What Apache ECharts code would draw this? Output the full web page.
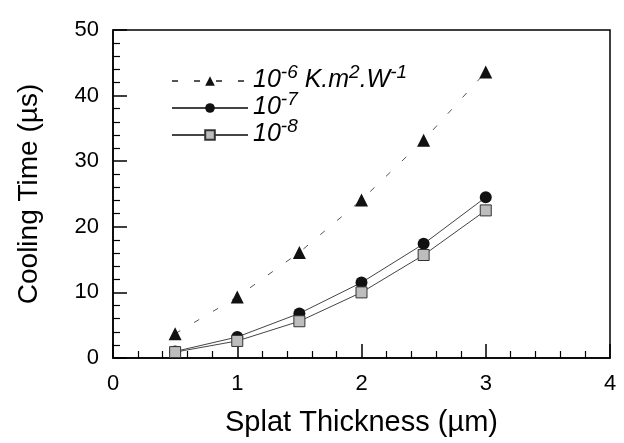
<!DOCTYPE html>
<html>
<head>
<meta charset="utf-8">
<script src="https://cdn.jsdelivr.net/npm/echarts@6/dist/echarts.min.js"></script>
<style>html,body{margin:0;padding:0;background:#fff}#c{width:624px;height:443px}</style>
</head>
<body>
<div id="c"></div>
<script>
var thickness = [0.5, 1, 1.5, 2, 2.5, 3];
var res1e6 = [3.7, 9.3, 16.1, 24.1, 33.2, 43.6];
var res1e7 = [1.0, 3.2, 6.8, 11.5, 17.4, 24.5];
var res1e8 = [0.9, 2.6, 5.6, 10.0, 15.7, 22.5];
var seriesNames = ['1e-6', '1e-7', '1e-8'];
var xTicks = [0, 1, 2, 3, 4];
var yTicks = [0, 10, 20, 30, 40, 50];

function pairs(vals) { return thickness.map(function (x, i) { return [x, vals[i]]; }); }

var legendText = {
  '1e-6': '{b|10}{s|-6}{b| K.m}{s|2}{b|.W}{s|-1}',
  '1e-7': '{b|10}{s|-7}',
  '1e-8': '{b|10}{s|-8}'
};

var chart = echarts.init(document.getElementById('c'), null, { renderer: 'canvas' });
var font = 'Liberation Sans, Arial, sans-serif';
chart.setOption({
  animation: false,
  backgroundColor: '#fff',
  grid: { left: 113, right: 14, top: 30, bottom: 85, show: true, borderColor: '#000', borderWidth: 1.5 },
  legend: {
    orient: 'vertical', left: 166, top: 58, itemWidth: 76, itemHeight: 12, itemGap: -3,
    data: seriesNames,
    formatter: function (n) { return legendText[n]; },
    textStyle: {
      rich: {
        b: { fontSize: 25, fontStyle: 'italic', fontFamily: font, color: '#000', lineHeight: 24, verticalAlign: 'bottom' },
        s: { fontSize: 19, fontStyle: 'italic', fontFamily: font, color: '#000', lineHeight: 16, padding: [0, 0, 11, 0], verticalAlign: 'bottom' }
      }
    }
  },
  xAxis: {
    type: 'value', min: xTicks[0], max: xTicks[xTicks.length - 1], interval: 1,
    name: 'Splat Thickness (µm)', nameLocation: 'middle', nameGap: 50,
    nameTextStyle: { fontSize: 29, fontFamily: font, color: '#000' },
    axisLine: { lineStyle: { color: '#000', width: 1.5 } },
    axisTick: { inside: true, length: 14, lineStyle: { color: '#000', width: 1.5 } },
    minorTick: { show: true, splitNumber: 5, length: 7, lineStyle: { color: '#000', width: 1.2 } },
    splitLine: { show: false },
    axisLabel: { fontSize: 22, fontFamily: font, color: '#000', margin: 15 }
  },
  yAxis: {
    type: 'value', min: yTicks[0], max: yTicks[yTicks.length - 1], interval: 10,
    name: 'Cooling Time (µs)', nameLocation: 'middle', nameGap: 70, nameRotate: 90,
    nameTextStyle: { fontSize: 28, fontFamily: font, color: '#000' },
    axisLine: { lineStyle: { color: '#000', width: 1.5 } },
    axisTick: { inside: true, length: 14, lineStyle: { color: '#000', width: 1.5 } },
    minorTick: { show: true, splitNumber: 5, length: 7, lineStyle: { color: '#000', width: 1.2 } },
    splitLine: { show: false },
    axisLabel: { fontSize: 22, fontFamily: font, color: '#000', margin: 14 }
  },
  series: [
    {
      name: seriesNames[0], type: 'line', data: pairs(res1e6),
      symbol: 'triangle', symbolSize: 13,
      itemStyle: { color: '#111' },
      lineStyle: { color: '#555', width: 1, type: [6, 16] }
    },
    {
      name: seriesNames[1], type: 'line', data: pairs(res1e7),
      symbol: 'circle', symbolSize: 12,
      itemStyle: { color: '#111' },
      lineStyle: { color: '#444', width: 1 }
    },
    {
      name: seriesNames[2], type: 'line', data: pairs(res1e8),
      symbol: 'rect', symbolSize: 11,
      itemStyle: { color: '#bdbdbd', borderColor: '#333', borderWidth: 1 },
      lineStyle: { color: '#444', width: 1 }
    }
  ]
});
</script>
</body>
</html>
